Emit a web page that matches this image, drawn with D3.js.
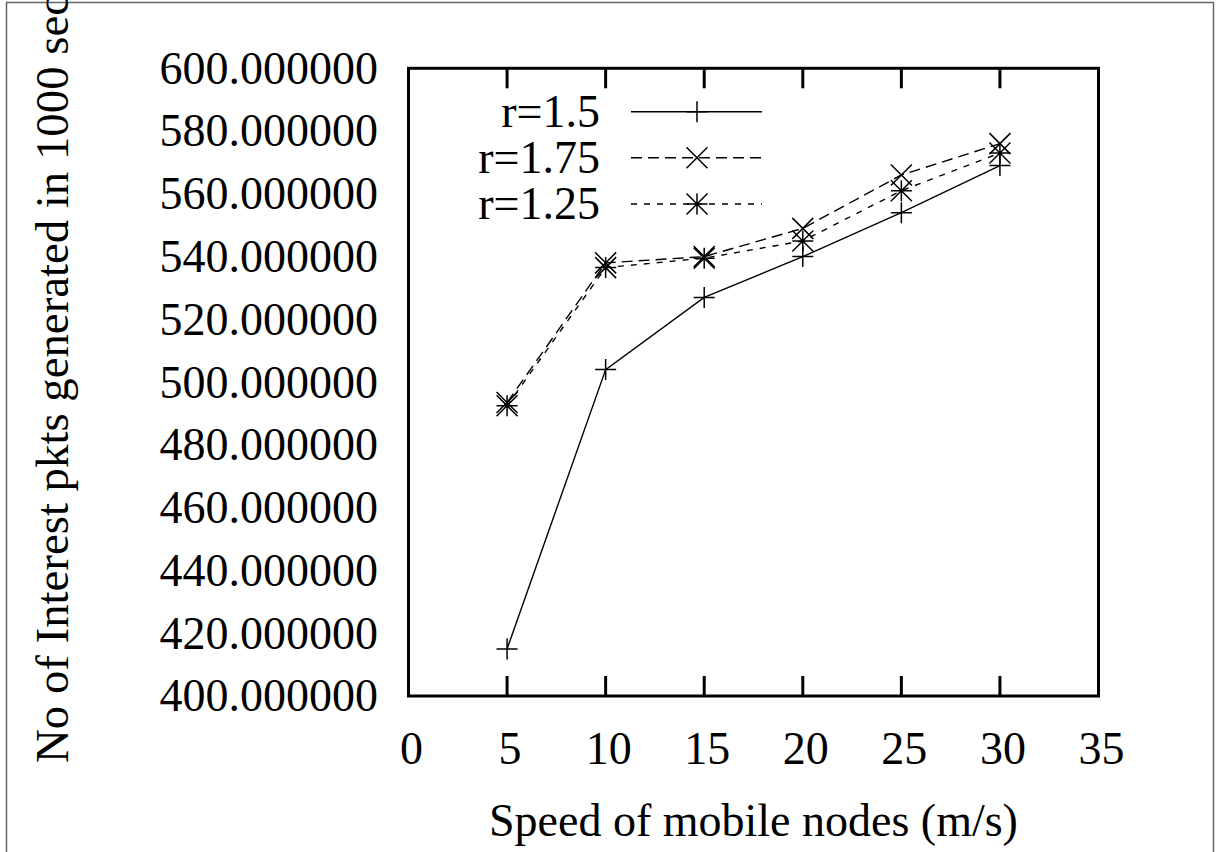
<!DOCTYPE html>
<html>
<head>
<meta charset="utf-8">
<script src="https://cdn.jsdelivr.net/npm/d3@7"></script>
<style>
  html, body { margin: 0; padding: 0; background: #fff; }
  svg { display: block; }
</style>
</head>
<body>
<svg id="chart" width="1217" height="852"></svg>
<script>
// Node speed (m/s) on the x axis
const speeds = [5, 10, 15, 20, 25, 30];

// Interest packets generated in 1000 s, one series per range factor r
const seriesNames = ["r=1.5", "r=1.75", "r=1.25"];
const valsR150 = [415, 504, 527, 540, 554, 569];
const valsR175 = [493.5, 538, 540, 549, 566, 576];
const valsR125 = [492.5, 536.5, 539.5, 545, 561, 573];

// Axis ticks
const xTicks = [0, 5, 10, 15, 20, 25, 30, 35];
const yTicks = [400, 420, 440, 460, 480, 500, 520, 540, 560, 580, 600];

const xTitle = "Speed of mobile nodes (m/s)";
const yTitle = "No of Interest pkts generated in 1000 sec";

const svg = d3.select("#chart");
const FONT = 46;
const FAMILY = "'Liberation Serif'";

// Plot frame edges
const frameL = 408.5, frameR = 1098.5, frameT = 68.3, frameB = 696;

const x = d3.scaleLinear().domain([0, 35]).range([frameL, frameR]);
const y = d3.scaleLinear().domain([400, 600]).range([frameB, frameT]);

// Outer page border
svg.append("rect")
  .attr("x", 6.5).attr("y", 2.5)
  .attr("width", 1207).attr("height", 870)
  .attr("fill", "none").attr("stroke", "#666").attr("stroke-width", 1.5);

// Tick marks on bottom and top edges (inward)
const tickLen = 20;
const inner = xTicks.filter(t => t > 0 && t < 35);
svg.append("g").selectAll("line").data(inner).join("line")
  .attr("x1", d => x(d)).attr("x2", d => x(d))
  .attr("y1", frameB).attr("y2", frameB - tickLen)
  .attr("stroke", "#000").attr("stroke-width", 3);
svg.append("g").selectAll("line").data(inner).join("line")
  .attr("x1", d => x(d)).attr("x2", d => x(d))
  .attr("y1", frameT).attr("y2", frameT + tickLen)
  .attr("stroke", "#000").attr("stroke-width", 3);

// Tick labels
svg.append("g").selectAll("text").data(xTicks).join("text")
  .attr("x", d => x(d) + 3).attr("y", 764)
  .attr("text-anchor", "middle")
  .attr("font-family", FAMILY)
  .attr("font-size", FONT)
  .text(d => d);

const fmt = d3.format(".6f");
svg.append("g").selectAll("text").data(yTicks).join("text")
  .attr("x", 378).attr("y", d => y(d))
  .attr("dy", "0.335em")
  .attr("text-anchor", "end")
  .attr("font-family", FAMILY)
  .attr("font-size", FONT)
  .text(d => fmt(d));

// Axis titles
svg.append("text")
  .attr("x", (frameL + frameR) / 2).attr("y", 836)
  .attr("text-anchor", "middle")
  .attr("font-family", FAMILY)
  .attr("font-size", FONT)
  .text(xTitle);

svg.append("text")
  .attr("transform", "translate(68,763) rotate(-90)")
  .attr("text-anchor", "start")
  .attr("font-family", FAMILY)
  .attr("font-size", 46.8)
  .text(yTitle);

// Marker shapes
const R = 10.5;
const plusPath = `M${-R},0H${R}M0,${-R}V${R}`;
const crossPath = `M${-R},${-R}L${R},${R}M${-R},${R}L${R},${-R}`;
const starPath = plusPath + crossPath;

const series = [
  { name: seriesNames[0], values: valsR150, dash: null, marker: plusPath },
  { name: seriesNames[1], values: valsR175, dash: "11,6", marker: crossPath },
  { name: seriesNames[2], values: valsR125, dash: "6,7", marker: starPath }
];

const line = d3.line().x((d, i) => x(speeds[i])).y(d => y(d));

const plot = svg.append("g");
series.forEach(s => {
  plot.append("path")
    .attr("d", line(s.values))
    .attr("fill", "none")
    .attr("stroke", "#000")
    .attr("stroke-width", 1.4)
    .attr("stroke-dasharray", s.dash);
  plot.append("g").selectAll("path").data(s.values).join("path")
    .attr("transform", (d, i) => `translate(${x(speeds[i])},${y(d)})`)
    .attr("d", s.marker)
    .attr("fill", "none")
    .attr("stroke", "#000")
    .attr("stroke-width", 1.5);
});

// Legend
const legRows = [111.7, 157.7, 204];
const legend = svg.append("g");
series.forEach((s, i) => {
  const ly = legRows[i];
  legend.append("text")
    .attr("x", 600).attr("y", ly)
    .attr("dy", "0.335em")
    .attr("text-anchor", "end")
    .attr("font-family", FAMILY)
    .attr("font-size", FONT)
    .text(s.name);
  legend.append("line")
    .attr("x1", 631).attr("x2", 762)
    .attr("y1", ly).attr("y2", ly)
    .attr("stroke", "#000").attr("stroke-width", 1.4)
    .attr("stroke-dasharray", s.dash);
  legend.append("path")
    .attr("transform", `translate(697,${ly})`)
    .attr("d", s.marker)
    .attr("fill", "none").attr("stroke", "#000").attr("stroke-width", 1.5);
});

// Plot frame border
svg.append("rect")
  .attr("x", frameL).attr("y", frameT)
  .attr("width", frameR - frameL).attr("height", frameB - frameT)
  .attr("fill", "none").attr("stroke", "#000").attr("stroke-width", 3);
</script>
</body>
</html>
